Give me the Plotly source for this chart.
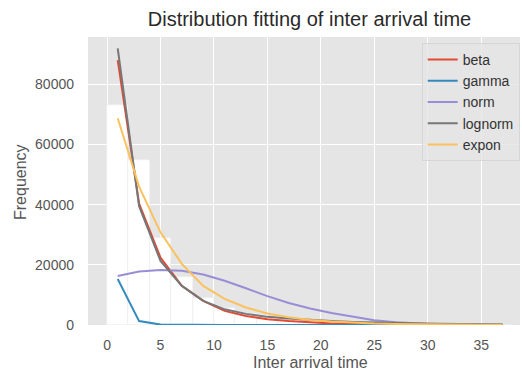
import plotly.graph_objects as go

# Data
bin_centers = [1, 3, 5, 7, 9, 11, 13, 15, 17, 19, 21, 23, 25, 27, 29, 31, 33, 35, 37]
hist_counts = [73200, 54700, 28800, 16000, 9100, 5600, 3500, 2300, 1500, 1000,
               700, 500, 350, 250, 180, 130, 100, 70, 50]

beta_vals = [88000, 40300, 22400, 13000, 8000, 4700, 3000, 1900, 1300, 800,
             500, 300, 200, 120, 80, 50, 30, 20, 10]
gamma_vals = [15300, 1300, 150, 20, 5, 0, 0, 0, 0, 0,
              0, 0, 0, 0, 0, 0, 0, 0, 0]
norm_vals = [16300, 17800, 18300, 18000, 16800, 14700, 12200, 9600, 7300, 5500,
             4000, 2700, 1600, 900, 450, 200, 90, 40, 15]
lognorm_vals = [91900, 39500, 21300, 13000, 8000, 5200, 3700, 2700, 2200, 1700,
                1300, 1000, 800, 650, 520, 430, 360, 300, 250]
expon_vals = [68700, 46000, 30800, 20300, 13000, 8700, 5800, 3800, 2600, 1700,
              1150, 760, 500, 340, 220, 150, 100, 65, 45]

series = [
    ("beta", beta_vals, "#E24A33"),
    ("gamma", gamma_vals, "#348ABD"),
    ("norm", norm_vals, "#988ED5"),
    ("lognorm", lognorm_vals, "#777777"),
    ("expon", expon_vals, "#FBC15E"),
]

x_ticks = [0, 5, 10, 15, 20, 25, 30, 35]
y_ticks = [0, 20000, 40000, 60000, 80000]

FONT = "Liberation Sans, Arial, sans-serif"

fig = go.Figure()
fig.add_trace(go.Bar(
    x=bin_centers, y=hist_counts, width=2,
    marker=dict(color="white", line=dict(color="#ececec", width=0.6)),
    showlegend=False, hoverinfo="skip",
))
for name, vals, col in series:
    fig.add_trace(go.Scatter(
        x=bin_centers, y=vals, mode="lines", name=name,
        line=dict(color=col, width=2),
    ))

L, R, T, B = 88, 2, 37, 46
W, H = 522, 371
pw = W - L - R
ph = H - T - B

fig.update_layout(
    width=W, height=H,
    margin=dict(l=L, r=R, t=T, b=B, pad=0),
    paper_bgcolor="white",
    plot_bgcolor="#E5E5E5",
    font=dict(family=FONT, size=14, color="#555555"),
    bargap=0,
    title=dict(
        text="Distribution fitting of inter arrival time",
        font=dict(family=FONT, size=20, color="#2a2a2a"),
        xref="paper", x=(309.5 - L) / pw, xanchor="center",
        yref="container", y=1 - 19 / H, yanchor="middle",
    ),
    xaxis=dict(
        range=[-1.78, 38.63],
        tickvals=x_ticks, ticktext=[str(v) for v in x_ticks],
        showgrid=True, gridcolor="white", gridwidth=1.3,
        zeroline=False, showline=False, ticks="",
        ticklabelstandoff=10,
        tickfont=dict(size=14, color="#555555"),
    ),
    yaxis=dict(
        range=[0, 95700],
        tickvals=y_ticks, ticktext=[str(v) for v in y_ticks],
        showgrid=True, gridcolor="white", gridwidth=1.3,
        zeroline=False, showline=False, ticks="",
        ticklabelstandoff=13,
        tickfont=dict(size=14, color="#555555"),
    ),
    legend=dict(
        x=(421.7 - L) / pw, y=(ph - (43 - T)) / ph,
        xanchor="left", yanchor="top",
        bgcolor="rgba(229,229,229,0.8)",
        bordercolor="#d6d6d6", borderwidth=1,
        font=dict(family=FONT, size=14, color="#333333"),
        itemwidth=30, tracegroupgap=0,
        entrywidth=110, entrywidthmode="pixels",
    ),
    annotations=[
        dict(text="Inter arrival time", xref="paper", yref="paper",
             x=(310 - L) / pw, y=-(362 - (T + ph)) / ph,
             xanchor="center", yanchor="middle", showarrow=False,
             font=dict(family=FONT, size=16, color="#555555")),
        dict(text="Frequency", xref="paper", yref="paper",
             x=-(L - 20) / pw, y=(T + ph - 182) / ph,
             xanchor="center", yanchor="middle", showarrow=False, textangle=-90,
             font=dict(family=FONT, size=16, color="#555555")),
    ],
)

fig.write_html(
    "out.html",
    config={"displayModeBar": False},
    post_script="document.body.style.margin='0';document.body.style.padding='0';",
)
